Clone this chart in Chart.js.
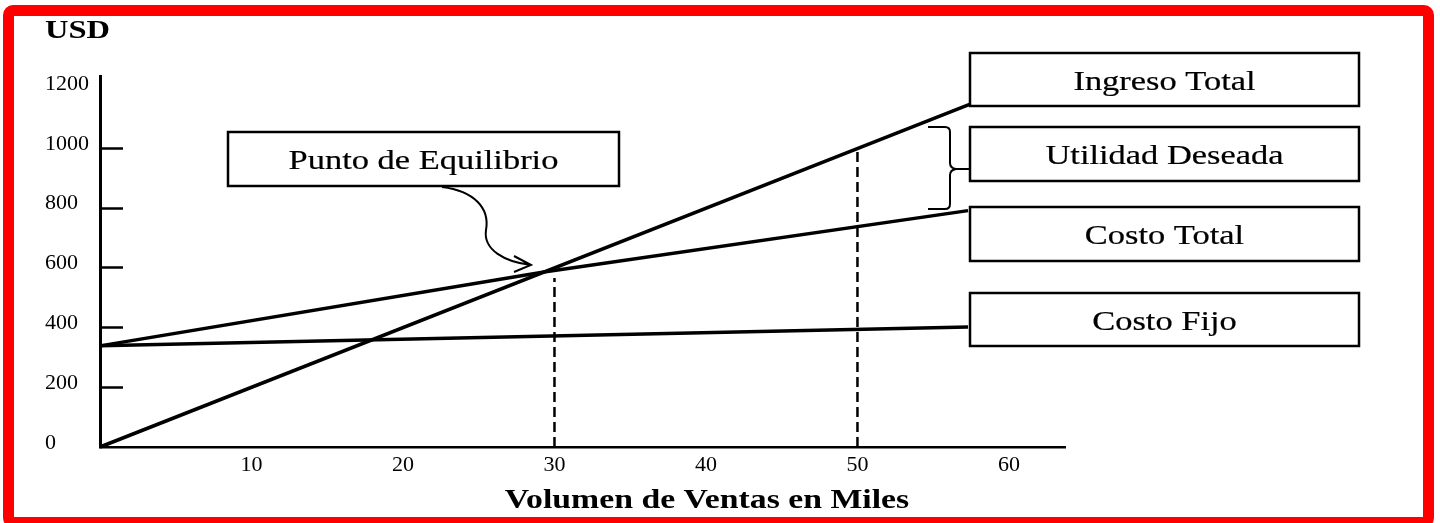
<!DOCTYPE html>
<html lang="es">
<head>
<meta charset="utf-8">
<title>Punto de Equilibrio</title>
<script src="https://cdn.jsdelivr.net/npm/chart.js@4.4.1/dist/chart.umd.min.js"></script>
<style>
    html, body { margin: 0; padding: 0; background: #fff; }
    #wrap { position: relative; width: 1440px; height: 523px; overflow: hidden; }
    #marco {
        position: absolute; left: 3px; top: 5px; width: 1431px; height: 523px;
        box-sizing: border-box; border: 11px solid #ff0000; border-radius: 10px;
        pointer-events: none;
    }
</style>
</head>
<body>
<div id="wrap">
    <canvas id="equilibrioChart" width="1440" height="523"></canvas>
    <div id="marco"></div>
</div>
<script>
// Datos (ventas en miles, USD)
const ventasIngreso = [0, 57.4];
const ingresoTotal = [0, 1145];
const ventasCostoTotal = [0, 29.3, 57.3];
const costoTotal = [338, 585, 790];
const ventasCostoFijo = [0, 57.3];
const costoFijo = [338, 401];
const equilibrioX = [30, 30];
const equilibrioY = [0, 565];
const utilidadX = [50, 50];
const utilidadY = [0, 1000];
const xTicks = [10, 20, 30, 40, 50, 60];
const yTicks = [0, 200, 400, 600, 800, 1000, 1200];
const yMarcas = [200, 400, 600, 800, 1000];
const etiquetas = ['Ingreso Total', 'Utilidad Deseada', 'Costo Total', 'Costo Fijo'];
const etiquetaEquilibrio = 'Punto de Equilibrio';

const SERIF = '"Liberation Serif", "Times New Roman", serif';

function puntos(xs, ys) {
    return xs.map((x, i) => ({x: x, y: ys[i]}));
}

// texto con el ancho estirado como en la imagen original
function textoEstirado(ctx, texto, cx, base, font, sx, align, trazo) {
    ctx.save();
    ctx.translate(cx, base);
    ctx.scale(sx, 1);
    ctx.font = font;
    ctx.fillStyle = '#000';
    ctx.textAlign = align || 'center';
    ctx.textBaseline = 'alphabetic';
    ctx.fillText(texto, 0, 0);
    if (trazo) {
        ctx.strokeStyle = '#000';
        ctx.lineWidth = trazo;
        ctx.strokeText(texto, 0, 0);
    }
    ctx.restore();
}

function caja(ctx, x1, y1, x2, y2, texto) {
    ctx.save();
    ctx.fillStyle = '#fff';
    ctx.fillRect(x1, y1, x2 - x1, y2 - y1);
    ctx.strokeStyle = '#000';
    ctx.lineWidth = 2.5;
    ctx.strokeRect(x1, y1, x2 - x1, y2 - y1);
    ctx.restore();
    textoEstirado(ctx, texto, (x1 + x2) / 2, (y1 + y2) / 2 + 10, '28px ' + SERIF, 1.23, 'center', 0.2);
}

const anotaciones = {
    id: 'anotaciones',
    afterDraw(chart) {
        const ctx = chart.ctx;
        const area = chart.chartArea;
        const y = chart.scales.y;

        // marcas del eje Y hacia adentro
        ctx.save();
        ctx.strokeStyle = '#000';
        ctx.lineWidth = 2.5;
        yMarcas.forEach(v => {
            const py = Math.round(y.getPixelForValue(v)) + 0.5;
            ctx.beginPath();
            ctx.moveTo(area.left, py);
            ctx.lineTo(area.left + 23, py);
            ctx.stroke();
        });
        ctx.restore();

        // cajas de la derecha
        caja(ctx, 970, 53, 1359, 106, etiquetas[0]);
        caja(ctx, 970, 127, 1359, 181, etiquetas[1]);
        caja(ctx, 970, 207, 1359, 261, etiquetas[2]);
        caja(ctx, 970, 293, 1359, 346, etiquetas[3]);
        caja(ctx, 228, 132, 619, 186, etiquetaEquilibrio);

        // llave de la utilidad deseada
        ctx.save();
        ctx.strokeStyle = '#000';
        ctx.lineWidth = 2;
        ctx.beginPath();
        ctx.moveTo(928, 127);
        ctx.lineTo(945, 127);
        ctx.quadraticCurveTo(950, 127, 950, 132);
        ctx.lineTo(950, 163);
        ctx.quadraticCurveTo(950, 168, 956, 169);
        ctx.quadraticCurveTo(950, 170, 950, 175);
        ctx.lineTo(950, 204);
        ctx.quadraticCurveTo(950, 209, 945, 209);
        ctx.lineTo(928, 209);
        ctx.moveTo(955, 169);
        ctx.lineTo(970, 169);
        ctx.stroke();

        // flecha del punto de equilibrio
        ctx.beginPath();
        ctx.moveTo(442, 187);
        ctx.bezierCurveTo(474, 191, 490, 208, 486, 230);
        ctx.bezierCurveTo(483, 250, 505, 262, 531, 265);
        ctx.moveTo(514, 256);
        ctx.lineTo(531, 265);
        ctx.lineTo(514, 272);
        ctx.stroke();
        ctx.restore();

        // titulos
        textoEstirado(ctx, 'USD', 45, 38, 'bold 25px ' + SERIF, 1.3, 'left');
        textoEstirado(ctx, 'Volumen de Ventas en Miles', 707, 508, 'bold 27px ' + SERIF, 1.25);
    }
};

document.addEventListener('DOMContentLoaded', function() {
    const ctx = document.getElementById('equilibrioChart').getContext('2d');
    const linea = {
        borderColor: '#000',
        borderWidth: 3.5,
        pointRadius: 0,
        tension: 0,
        fill: false,
        clip: false
    };
    new Chart(ctx, {
        type: 'line',
        data: {
            datasets: [
                Object.assign({label: 'Ingreso Total', data: puntos(ventasIngreso, ingresoTotal)}, linea),
                Object.assign({label: 'Costo Total', data: puntos(ventasCostoTotal, costoTotal)}, linea),
                Object.assign({label: 'Costo Fijo', data: puntos(ventasCostoFijo, costoFijo)}, linea),
                Object.assign({label: 'Equilibrio', data: puntos(equilibrioX, equilibrioY)}, linea, {borderWidth: 2.5, borderDash: [10, 5]}),
                Object.assign({label: 'Utilidad', data: puntos(utilidadX, utilidadY)}, linea, {borderWidth: 2.5, borderDash: [10, 5]})
            ]
        },
        options: {
            responsive: false,
            animation: false,
            devicePixelRatio: 1,
            layout: {
                padding: {left: 45, top: 76, right: 375, bottom: 26}
            },
            scales: {
                x: {
                    type: 'linear',
                    min: 0,
                    max: 63.7,
                    afterFit: scale => { scale.height = 50; },
                    afterBuildTicks: scale => { scale.ticks = xTicks.map(v => ({value: v})); },
                    grid: {display: false, drawTicks: false},
                    border: {color: '#000', width: 2.5},
                    ticks: {
                        color: '#000',
                        padding: 5,
                        maxRotation: 0,
                        callback: v => String(v),
                        font: {family: SERIF, size: 22}
                    }
                },
                y: {
                    min: 0,
                    max: 1240,
                    afterFit: scale => { scale.width = 55; },
                    afterBuildTicks: scale => { scale.ticks = yTicks.map(v => ({value: v})); },
                    grid: {display: false, drawTicks: false},
                    border: {color: '#000', width: 3},
                    ticks: {
                        color: '#000',
                        crossAlign: 'far',
                        labelOffset: -4,
                        callback: v => String(v),
                        font: {family: SERIF, size: 22}
                    }
                }
            },
            plugins: {
                legend: {display: false},
                tooltip: {enabled: false}
            }
        },
        plugins: [anotaciones]
    });
});
</script>
</body>
</html>
